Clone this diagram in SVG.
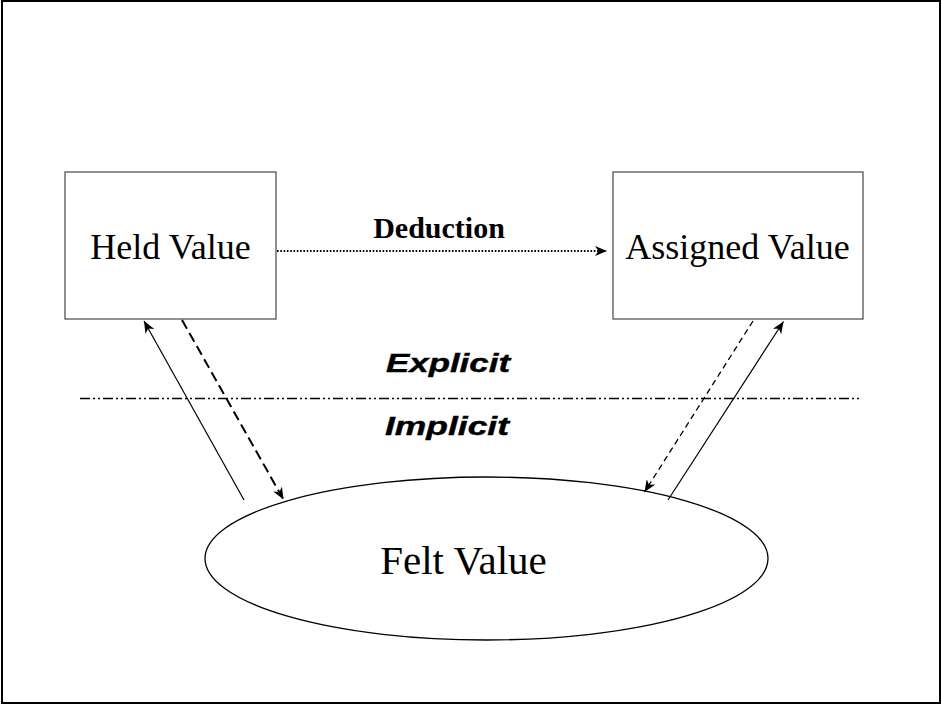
<svg xmlns="http://www.w3.org/2000/svg" width="942" height="706" viewBox="0 0 942 706">
  <defs>
    <marker id="arr" viewBox="0 0 12 10" refX="12" refY="5" markerWidth="12" markerHeight="10" markerUnits="userSpaceOnUse" orient="auto">
      <path d="M0,0 L12,5 L0,10 L3.5,5 Z" fill="#000" stroke="none"/>
    </marker>
    <style>
      .box { fill: #fff; stroke: #555; stroke-width: 1.3; }
      .lbl { font-family: "Liberation Serif", "Times New Roman", serif; fill: #000; text-anchor: middle; }
      .side { font-family: "Liberation Sans", Arial, sans-serif; font-weight: bold; font-style: italic; font-size: 26px; fill: #000; stroke: #000; stroke-width: 0.4; }
      .conn { fill: none; stroke: #000; }
    </style>
  </defs>
  <rect x="2" y="1" width="938" height="702" fill="#fff" stroke="#000" stroke-width="2"/>

  <g id="held">
    <rect class="box" x="65" y="172" width="211" height="147"/>
    <text class="lbl" x="170.5" y="259" font-size="36">Held Value</text>
  </g>
  <g id="assigned">
    <rect class="box" x="613" y="172" width="250" height="147"/>
    <text class="lbl" x="737.5" y="259" font-size="36">Assigned Value</text>
  </g>
  <g id="felt">
    <ellipse cx="486.5" cy="558.5" rx="281.5" ry="81.5" fill="#fff" stroke="#000" stroke-width="1.3"/>
    <text class="lbl" x="463.5" y="574" font-size="41">Felt Value</text>
  </g>

  <g id="divider">
    <line x1="80" y1="398.5" x2="860" y2="398.5" stroke="#000" stroke-width="1.3" stroke-dasharray="10 3 2 3 2 3"/>
    <text class="side" x="386" y="372" textLength="124" lengthAdjust="spacingAndGlyphs">Explicit</text>
    <text class="side" x="385" y="435" textLength="124" lengthAdjust="spacingAndGlyphs">Implicit</text>
  </g>

  <g id="connectors">
    <line class="conn" x1="277" y1="251" x2="607" y2="251" stroke-width="2.2" stroke-dasharray="1.6 1.7" marker-end="url(#arr)"/>
    <text class="lbl" x="439" y="238" font-size="30" font-weight="bold">Deduction</text>
    <line class="conn" x1="244" y1="500" x2="144" y2="321" stroke-width="1.2" marker-end="url(#arr)"/>
    <line class="conn" x1="182" y1="320" x2="283.5" y2="499.5" stroke-width="2" stroke-dasharray="10 5" marker-end="url(#arr)"/>
    <line class="conn" x1="753" y1="321" x2="644.5" y2="492" stroke-width="1.3" stroke-dasharray="6 4" marker-end="url(#arr)"/>
    <line class="conn" x1="668" y1="500" x2="783.5" y2="321.5" stroke-width="1.2" marker-end="url(#arr)"/>
  </g>
</svg>
